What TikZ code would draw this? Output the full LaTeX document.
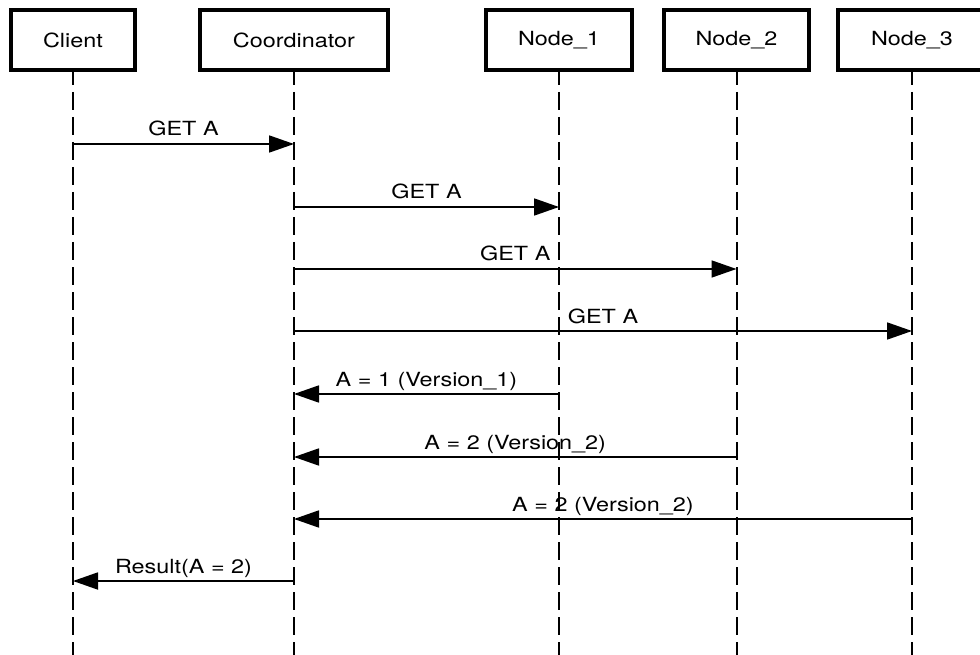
\documentclass[tikz,border=0pt]{standalone}
\usepackage{fontspec}
\setmainfont{TeX Gyre Heros}[FakeStretch=1.2]
\usetikzlibrary{arrows.meta}
\begin{document}
\begin{tikzpicture}[x=1pt,y=-1pt,
  actor/.style={draw, line width=3.5pt, minimum width=#1, minimum height=60pt,
    inner sep=0pt, outer sep=0pt, font=\fontsize{19.5}{22}\selectfont},
  life/.style={line width=2pt, dash pattern=on 18pt off 7pt, dash phase=3pt},
  msg/.style={line width=1.8pt, -{Triangle[length=25pt,width=17pt]}},
  lbl/.style={midway, anchor=base, yshift=8pt, inner sep=0pt,
    font=\fontsize{19.5}{22}\selectfont}]
\useasboundingbox (0,0) rectangle (980,655);
\fill[white] (0,0) rectangle (980,655);
\clip (0,0) rectangle (980,655);
% participants
\node[actor=124pt] (cl) at (73,40) {Client};
\node[actor=188pt] (co) at (294,40) {Coordinator};
\node[actor=146pt] (n1) at (559,40) {Node\_1};
\node[actor=145pt] (n2) at (736.5,40) {Node\_2};
\node[actor=148pt] (n3) at (912,40) {Node\_3};
% lifeline ends
\foreach \p in {cl,co,n1,n2,n3} {
  \coordinate (\p E) at (\p.south |- 0,660);
  \draw[life] (\p.south) -- (\p E);
}
% message end points
\coordinate (a1) at (cl.south |- 0,144);
\coordinate (b1) at (co.south |- 0,144);
\coordinate (a2) at (co.south |- 0,207);
\coordinate (b2) at (n1.south |- 0,207);
\coordinate (a3) at (co.south |- 0,269);
\coordinate (b3) at (n2.south |- 0,269);
\coordinate (a4) at (co.south |- 0,331);
\coordinate (b4) at (n3.south |- 0,331);
\coordinate (a5) at (n1.south |- 0,394);
\coordinate (b5) at (co.south |- 0,394);
\coordinate (a6) at (n2.south |- 0,457);
\coordinate (b6) at (co.south |- 0,457);
\coordinate (a7) at (n3.south |- 0,519);
\coordinate (b7) at (co.south |- 0,519);
\coordinate (a8) at (co.south |- 0,581);
\coordinate (b8) at (cl.south |- 0,581);
% messages
\draw[msg] (a1) -- node[lbl] {GET A} (b1);
\draw[msg] (a2) -- node[lbl] {GET A} (b2);
\draw[msg] (a3) -- node[lbl] {GET A} (b3);
\draw[msg] (a4) -- node[lbl] {GET A} (b4);
\draw[msg] (a5) -- node[lbl] {A = 1 (Version\_1)} (b5);
\draw[msg] (a6) -- node[lbl] {A = 2 (Version\_2)} (b6);
\draw[msg] (a7) -- node[lbl] {A = 2 (Version\_2)} (b7);
\draw[msg] (a8) -- node[lbl] {Result(A = 2)} (b8);
\end{tikzpicture}
\end{document}
